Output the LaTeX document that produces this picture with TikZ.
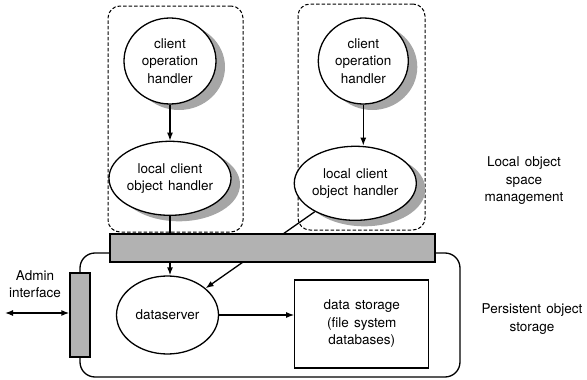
\documentclass[tikz,border=0pt]{standalone}
\usepackage{fontspec}
\setmainfont{TeX Gyre Heros}[WordSpace=1.4]
\usetikzlibrary{positioning, arrows.meta, shapes.geometric, shadows, backgrounds}

\begin{document}
\begin{tikzpicture}[
  x=1pt, y=-1pt,
  font=\fontsize{13.5}{17.5}\selectfont,
  proc/.style={ellipse, draw, line width=1.3pt, fill=white, align=center, inner sep=0pt},
  shade/.style={proc, drop shadow={shadow xshift=9pt, shadow yshift=-6pt, fill=gray!70, opacity=1}},
  group/.style={draw, line width=1pt, dash pattern=on 3.5pt off 2pt, rounded corners=12pt},
  bar/.style={draw, line width=1.3pt, fill=gray!60, inner sep=0pt},
  store/.style={draw, line width=1.3pt, rounded corners=15pt},
  box/.style={draw, line width=1.3pt, align=center, inner sep=0pt},
  lbl/.style={align=center},
  arrow/.style={-{Latex[length=8pt,width=6pt]}, line width=1.3pt}
]
\useasboundingbox (0,0) rectangle (587,380);

% local object space
\node[group, minimum width=135, minimum height=226] (grp1) at (175.5,119) {};
\node[group, minimum width=127, minimum height=226] (grp2) at (361.5,117) {};
\node[shade, minimum width=92, minimum height=86] (coh1) at (170,61) {client\\operation\\handler};
\node[shade, minimum width=108, minimum height=74, below=36pt of coh1] (lch1) {local client\\object handler};
\node[shade, minimum width=90, minimum height=86, right=101pt of coh1] (coh2) {client\\operation\\handler};
\node[shade, minimum width=102, minimum height=74, below=41pt of coh2, xshift=-8pt] (lch2) {local client\\object handler};

% persistent object storage
\node[store, minimum width=380, minimum height=124] (pstore) at (270,315) {};
\node[proc, minimum width=102, minimum height=78] (ds) at (167.5,315) {dataserver};
\node[box, minimum width=134, minimum height=88, right=75pt of ds, yshift=-9pt] (dst) {data storage\\(file system\\databases)};

% bars
\node[bar, minimum width=325, minimum height=28] (bus) at (272.5,248) {};
\node[bar, minimum width=20, minimum height=84] (adm) at (80,315) {};

% labels
\node[lbl] (admlbl) at (35,284) {Admin\\interface};
\node[lbl] (lsm) at (524,181) {Local object\\space\\management};
\node[lbl] (pos) at (532,319) {Persistent object\\storage};
\coordinate (admext) at (5,313);

\draw[arrow] (coh1) -- (lch1);
\draw[arrow] (coh2.south) -- (coh2.south |- lch2.north);
\draw[line width=1.3pt] (lch1.south) -- (lch1.south |- bus.north);
\draw[arrow] (bus.south -| lch1.south) -- (lch1.south |- ds.north);
\begin{scope}[on background layer]
  \draw[arrow] (lch2) -- (ds);
\end{scope}
\draw[arrow] (ds.east) -- (ds.east -| dst.west);
\draw[{Latex[length=8pt,width=6pt]}-{Latex[length=8pt,width=6pt]}, line width=1.3pt] (admext) -- (admext -| adm.west);

\end{tikzpicture}
\end{document}
